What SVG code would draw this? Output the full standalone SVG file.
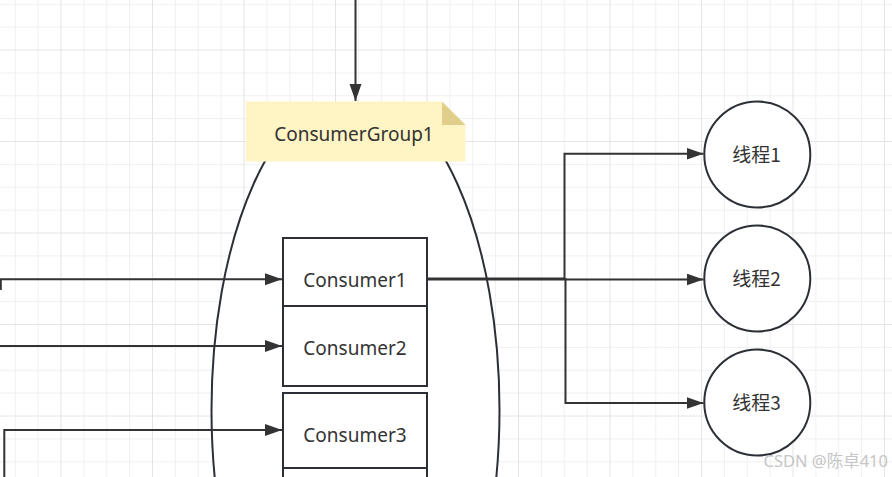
<svg xmlns="http://www.w3.org/2000/svg" width="892" height="477" viewBox="0 0 892 477">
  <style>
    .minor { stroke: #f0f0f0; stroke-width: 1; fill: none; }
    .major { stroke: #e4e4e4; stroke-width: 1; fill: none; }
    .shape { fill: #ffffff; stroke: #2c3036; stroke-width: 2; }
    .edge { fill: none; stroke: #333333; stroke-width: 2; }
    .lbl { font-family: "Noto Sans", "Noto Sans CJK SC", sans-serif; font-size: 19px; fill: #333333; text-anchor: middle; }
    .cjk { font-family: "Noto Sans CJK SC", "Noto Sans", sans-serif; font-size: 19px; fill: #333333; text-anchor: middle; }
    .wm { font-family: "Noto Sans", "Noto Sans CJK SC", sans-serif; font-size: 16.5px; fill: #c6c6c6; text-anchor: end; }
  </style>
  <defs>
    <marker id="arrow" markerUnits="userSpaceOnUse" markerWidth="20" markerHeight="14" refX="17" refY="6" orient="auto">
      <path d="M0,0 L17,6 L0,12 Z" fill="#333333"/>
    </marker>
    <clipPath id="ellClip">
      <rect x="0" y="104" width="892" height="400"/>
    </clipPath>
  </defs>

  <rect x="0" y="0" width="892" height="477" fill="#ffffff"/>

  <g id="grid">
    <path class="minor" d="M-7.6,0V477M15.3,0V477M38.1,0V477M83.9,0V477M106.8,0V477M129.6,0V477M175.4,0V477M198.3,0V477M221.1,0V477M266.9,0V477M289.8,0V477M312.6,0V477M358.4,0V477M381.3,0V477M404.1,0V477M449.9,0V477M472.8,0V477M495.6,0V477M541.4,0V477M564.3,0V477M587.1,0V477M632.9,0V477M655.8,0V477M678.6,0V477M724.4,0V477M747.3,0V477M770.1,0V477M815.9,0V477M838.8,0V477M861.6,0V477"/>
    <path class="minor" d="M0,4.3H892M0,27.1H892M0,72.9H892M0,95.8H892M0,118.6H892M0,164.4H892M0,187.3H892M0,210.1H892M0,255.9H892M0,278.8H892M0,301.6H892M0,347.4H892M0,370.3H892M0,393.1H892M0,438.9H892M0,461.8H892"/>
    <path class="major" d="M61,0V477M152.5,0V477M244,0V477M335.5,0V477M427,0V477M518.5,0V477M610,0V477M701.5,0V477M793,0V477M884.5,0V477"/>
    <path class="major" d="M0,50H892M0,141.5H892M0,233H892M0,324.5H892M0,416H892"/>
  </g>

  <g id="consumerGroup">
    <ellipse class="shape" cx="355.5" cy="410" rx="144" ry="320" clip-path="url(#ellClip)"/>
  </g>

  <g id="consumerGroup1-note">
    <path d="M246,101.5 H442 L465.5,125 V161.5 H246 Z" fill="#fff4c3"/>
    <path d="M442,101.5 L465.5,125 H442 Z" fill="#e0ce8a"/>
    <text class="lbl" x="354" y="141">ConsumerGroup1</text>
  </g>

  <g id="consumer1">
    <rect class="shape" x="283" y="238" width="144" height="80"/>
    <text class="lbl" x="355" y="286.5">Consumer1</text>
  </g>
  <g id="consumer2">
    <rect class="shape" x="283" y="306" width="144" height="80"/>
    <text class="lbl" x="355" y="354.5">Consumer2</text>
  </g>
  <g id="consumer3">
    <rect class="shape" x="283" y="393" width="144" height="80"/>
    <text class="lbl" x="355" y="441.5">Consumer3</text>
  </g>
  <g id="consumer4">
    <rect class="shape" x="283" y="468" width="144" height="80"/>
  </g>

  <g id="thread1">
    <circle class="shape" cx="757.3" cy="154.5" r="53"/>
    <text class="cjk" x="756.5" y="161.5">线程1</text>
  </g>
  <g id="thread2">
    <circle class="shape" cx="757.3" cy="278.5" r="53"/>
    <text class="cjk" x="756.5" y="285.5">线程2</text>
  </g>
  <g id="thread3">
    <circle class="shape" cx="757.3" cy="402.5" r="53"/>
    <text class="cjk" x="756.5" y="409.5">线程3</text>
  </g>

  <g id="connectors">
    <path class="edge" d="M355.5,0 V101" marker-end="url(#arrow)"/>
    <path class="edge" d="M0.8,290 V279.3 H282" marker-end="url(#arrow)"/>
    <path class="edge" d="M0,346 H282" marker-end="url(#arrow)"/>
    <path class="edge" d="M4.3,477 V430 H282" marker-end="url(#arrow)"/>
    <path class="edge" d="M427,278.5 H564.5 V153.8 H703.5" marker-end="url(#arrow)"/>
    <path class="edge" d="M427,279.5 H703.5" marker-end="url(#arrow)"/>
    <path class="edge" d="M427,279 H565.5 V403 H703.5" marker-end="url(#arrow)"/>
  </g>

  <text class="wm" x="888" y="467">CSDN @陈卓410</text>
</svg>
